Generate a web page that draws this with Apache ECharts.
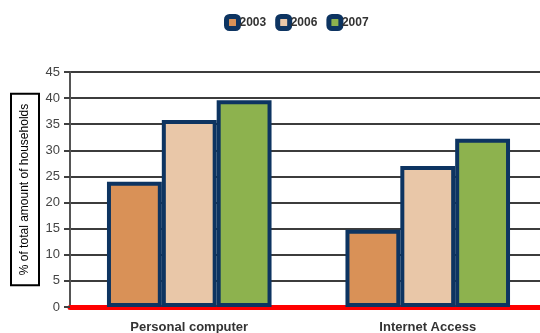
<!DOCTYPE html>
<html><head><meta charset="utf-8">
<script src="https://cdn.jsdelivr.net/npm/echarts@6/dist/echarts.min.js"></script>
<style>html,body{margin:0;padding:0;background:#fff}#c{width:540px;height:333px}</style>
</head><body><div id="c"></div>
<script>
var categories = ['Personal computer', 'Internet Access'];
var years = ['2003', '2006', '2007'];
var v2003 = [24, 14.8];
var v2006 = [35.8, 27];
var v2007 = [39.6, 32.2];
var yTicks = [0, 5, 10, 15, 20, 25, 30, 35, 40, 45];
var colors = ['#D99157', '#E9C7A8', '#8DB24E'];
var border = '#0D3461';
var font = 'Arial, "Liberation Sans", sans-serif';
var values = [v2003, v2006, v2007];

var chart = echarts.init(document.getElementById('c'), null, {renderer: 'canvas'});
chart.setOption({
  animation: false,
  textStyle: {fontFamily: font},
  legend: {
    top: 9, left: 219,
    itemWidth: 12, itemHeight: 12, itemGap: 9,
    icon: 'roundRect',
    itemStyle: {borderColor: border, borderWidth: 5},
    textStyle: {fontFamily: font, fontSize: 12, fontWeight: 'bold', color: '#333', padding: [0, 0, 0, -4]},
    data: years
  },
  grid: {left: 70, top: 72, width: 477, bottom: 26, containLabel: false, outerBoundsMode: 'none'},
  xAxis: {
    type: 'category', data: categories,
    axisLine: {lineStyle: {color: '#FF0000', width: 5, cap: 'round'}},
    axisTick: {show: false},
    axisLabel: {margin: 14, fontSize: 13, fontWeight: 'bold', color: '#333', fontFamily: font}
  },
  yAxis: {
    type: 'value', min: yTicks[0], max: yTicks[yTicks.length - 1], interval: 5,
    name: '% of total amount of households',
    nameLocation: 'middle', nameRotate: 90, nameGap: 31, nameMoveOverlap: false,
    nameTextStyle: {fontSize: 12, color: '#000', fontFamily: font, borderColor: '#000', borderWidth: 2, padding: [8, 10, 8, 10]},
    axisLine: {show: true, lineStyle: {color: '#555', width: 2}},
    axisTick: {show: true, length: 6, lineStyle: {color: '#404040', width: 2}},
    axisLabel: {fontSize: 13, color: '#444', margin: 10, fontFamily: font},
    splitLine: {lineStyle: {color: '#3c3c3c', width: 2}}
  },
  series: years.map(function (y, i) {
    return {
      name: y, type: 'bar', data: values[i],
      barGap: '0%', barCategoryGap: '31%',
      itemStyle: {color: colors[i], borderColor: border, borderWidth: 4, borderRadius: 0}
    };
  })
});
</script></body></html>
